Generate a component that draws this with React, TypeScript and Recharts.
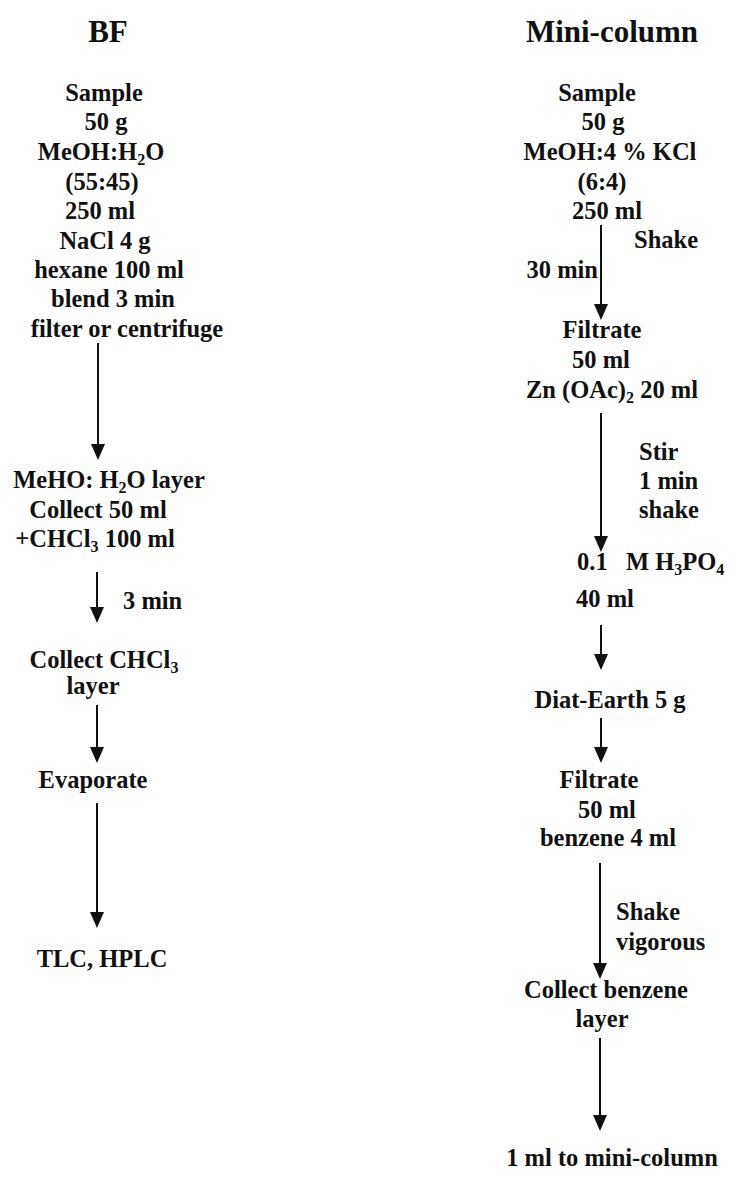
import React from 'react';
import { ScatterChart, Scatter, XAxis, YAxis, ReferenceLine } from 'recharts';

// text rows: x = centre of the line, y = baseline ("_2" marks a subscript)
const titles = [
  { text: 'BF', x: 108, y: 42 },
  { text: 'Mini-column', x: 612, y: 42 },
];

const bfLines = [
  { text: 'Sample', x: 104, y: 101 },
  { text: '50 g', x: 106, y: 130 },
  { text: 'MeOH:H_2O', x: 101, y: 160 },
  { text: '(55:45)', x: 102, y: 190 },
  { text: '250 ml', x: 100, y: 219 },
  { text: 'NaCl 4 g', x: 105, y: 249 },
  { text: 'hexane 100 ml', x: 109, y: 278 },
  { text: 'blend 3 min', x: 113, y: 307 },
  { text: 'filter or centrifuge', x: 127, y: 337 },
  { text: 'MeHO: H_2O layer', x: 109, y: 488 },
  { text: 'Collect 50 ml', x: 98, y: 518 },
  { text: '+CHCl_3 100 ml', x: 95, y: 547 },
  { text: 'Collect CHCl_3', x: 104, y: 668 },
  { text: 'layer', x: 93, y: 694 },
  { text: 'Evaporate', x: 93, y: 788 },
  { text: 'TLC, HPLC', x: 102, y: 967 },
];

const miniLines = [
  { text: 'Sample', x: 597, y: 101 },
  { text: '50 g', x: 603, y: 130 },
  { text: 'MeOH:4 % KCl', x: 610, y: 160 },
  { text: '(6:4)', x: 602, y: 190 },
  { text: '250 ml', x: 607, y: 219 },
  { text: 'Filtrate', x: 602, y: 338 },
  { text: '50 ml', x: 601, y: 368 },
  { text: 'Zn (OAc)_2 20 ml', x: 612, y: 398 },
  { text: '40 ml', x: 605, y: 607 },
  { text: 'Diat-Earth 5 g', x: 610, y: 708 },
  { text: 'Filtrate', x: 599, y: 788 },
  { text: '50 ml', x: 607, y: 818 },
  { text: 'benzene 4 ml', x: 608, y: 846 },
  { text: 'Collect benzene', x: 606, y: 998 },
  { text: 'layer', x: 602, y: 1027 },
  { text: '1 ml to mini-column', x: 612, y: 1166 },
];

// step notes beside the arrows, x = left edge
const notesLeft = [
  { text: '3 min', x: 123, y: 609 },
  { text: 'Shake', x: 634, y: 248 },
  { text: 'Stir', x: 639, y: 460 },
  { text: '1 min', x: 639, y: 489 },
  { text: 'shake', x: 639, y: 518 },
  { text: '0.1   M H_3PO_4', x: 577, y: 570 },
  { text: 'Shake', x: 616, y: 920 },
  { text: 'vigorous', x: 616, y: 950 },
];

// notes whose right edge touches the arrow
const notesRight = [{ text: '30 min', x: 598, y: 278 }];

// arrows: x, start of shaft, tip
const bfArrows = [
  { x: 98, from: 343, to: 460 },
  { x: 97, from: 572, to: 623 },
  { x: 97, from: 705, to: 763 },
  { x: 97, from: 803, to: 928 },
];

const miniArrows = [
  { x: 601, from: 225, to: 320 },
  { x: 601, from: 413, to: 552 },
  { x: 601, from: 625, to: 670 },
  { x: 601, from: 718, to: 763 },
  { x: 600, from: 863, to: 979 },
  { x: 600, from: 1038, to: 1131 },
];

const FONT = '"Liberation Serif", "Times New Roman", serif';

const segments = (s: string) =>
  s.split(/(_\d)/).filter(Boolean).map((p) => (p.startsWith('_') ? { t: p.slice(1), sub: true } : { t: p, sub: false }));

const makeText = (size: number, anchor: 'start' | 'middle' | 'end') => (props: any) => {
  const { cx, cy, payload } = props;
  const segs = segments(payload.text);
  let shifted = false;
  return (
    <text
      x={cx}
      y={cy}
      textAnchor={anchor}
      fontFamily={FONT}
      fontWeight="bold"
      fontSize={size}
      fill="#111"
      style={{ whiteSpace: 'pre' }}
    >
      {segs.map((sg, i) => {
        let dy = 0;
        if (sg.sub && !shifted) { dy = 5; shifted = true; }
        else if (!sg.sub && shifted) { dy = -5; shifted = false; }
        return (
          <tspan key={i} dy={dy} fontSize={sg.sub ? 16 : undefined}>
            {sg.t}
          </tspan>
        );
      })}
    </text>
  );
};

const ArrowHead = (props: any) => {
  const { cx, cy } = props;
  return <polygon points={`${cx - 7},${cy - 16} ${cx + 7},${cy - 16} ${cx},${cy}`} fill="#111" />;
};

export default function App() {
  const arrows = [...bfArrows, ...miniArrows];
  const tips = arrows.map((a) => ({ x: a.x, y: a.to }));
  return (
    <div style={{ position: 'absolute', left: 0, top: 0, background: '#fff' }}>
      <ScatterChart width={738} height={1180} margin={{ top: 0, right: 0, bottom: 0, left: 0 }}>
        <XAxis type="number" dataKey="x" domain={[0, 738]} hide />
        <YAxis type="number" dataKey="y" domain={[0, 1180]} reversed hide />
        {arrows.map((a, i) => (
          <ReferenceLine
            key={i}
            segment={[{ x: a.x, y: a.from }, { x: a.x, y: a.to - 8 }]}
            stroke="#111"
            strokeWidth={2}
            ifOverflow="visible"
          />
        ))}
        <Scatter data={tips} shape={ArrowHead} isAnimationActive={false} />
        <Scatter data={titles} shape={makeText(31, 'middle')} isAnimationActive={false} />
        <Scatter data={bfLines} shape={makeText(24.5, 'middle')} isAnimationActive={false} />
        <Scatter data={miniLines} shape={makeText(24.5, 'middle')} isAnimationActive={false} />
        <Scatter data={notesLeft} shape={makeText(24.5, 'start')} isAnimationActive={false} />
        <Scatter data={notesRight} shape={makeText(24.5, 'end')} isAnimationActive={false} />
      </ScatterChart>
    </div>
  );
}
